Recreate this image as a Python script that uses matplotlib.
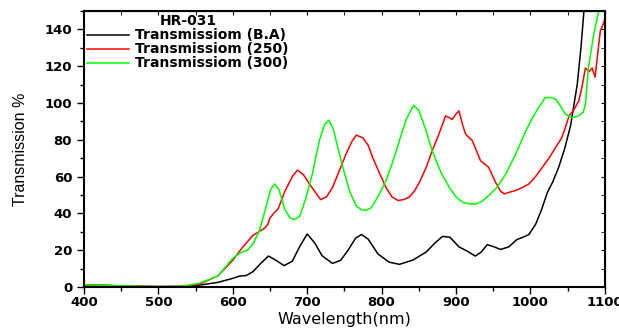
import matplotlib
matplotlib.use("Agg")
import matplotlib.pyplot as plt
from matplotlib.ticker import MultipleLocator

plt.rcParams["font.family"] = ["DejaVu Sans"]

# --- data ---
wl_ba = [400, 450, 500, 530, 555, 580, 600, 609, 618, 627, 638, 648, 658, 669, 680, 690,
         700, 710, 720, 734, 745, 755, 765, 773, 782, 795, 810, 824, 842, 860, 872, 882,
         892, 904, 915, 926, 934, 942, 950, 960, 971, 982, 990, 998, 1007, 1015, 1023,
         1030, 1038, 1046, 1054, 1063, 1068, 1072]
t_ba = [1.2, 0.6, 0.2, 0.3, 1, 2.5, 4.7, 5.9, 6.2, 8.3, 13, 16.8, 14.5, 11.6, 14, 22,
        28.8, 24, 17, 12.8, 14.5, 20, 26.5, 28.5, 26, 18, 13.5, 12.3, 14.6, 19, 24, 27.5,
        27, 21.8, 19.5, 16.8, 19, 23, 22, 20.4, 21.8, 25.8, 27, 28.5, 34, 42, 51.5,
        57, 65, 75, 87.6, 110, 130, 150]

wl_250 = [400, 450, 500, 530, 555, 580, 600, 612, 627, 643, 647, 650, 655, 661, 670, 680,
          687, 695, 703, 710, 718, 726, 734, 743, 752, 760, 766, 775, 782, 788, 797, 806,
          814, 822, 830, 837, 844, 851, 860, 868, 877, 886, 891, 895, 900, 904, 909, 913,
          922, 933, 944, 953, 960, 965, 972, 980, 989, 998, 1007, 1016, 1025, 1034, 1042,
          1047, 1052, 1058, 1065, 1070, 1074, 1079, 1083, 1087, 1090, 1094, 1099, 1100]
t_250 = [1.2, 0.6, 0.2, 0.3, 1.5, 6, 14.5, 21, 28, 32, 34, 37.5, 40, 42.5, 52, 60,
         63.5, 61, 56, 52, 47.5, 49, 54, 63, 72, 79, 82.5, 81, 77, 70.4, 62, 54,
         49, 47, 47.5, 48.8, 52, 57, 65, 74, 83, 93, 92, 91, 94, 95.7, 88, 83,
         79.5, 68.6, 65, 57, 52, 50.6, 51.5, 52.4, 54, 56, 60, 65, 70, 75.8, 81,
         86.6, 93, 96, 101, 110, 119, 117, 119, 114, 125, 139, 144, 146]

wl_300 = [400, 450, 500, 530, 555, 580, 600, 610, 620, 628, 636, 645, 651, 656, 662, 670,
          677, 683, 690, 698, 707, 716, 723, 729, 735, 741, 748, 757, 766, 773, 779, 786,
          795, 806, 815, 824, 833, 843, 850, 859, 868, 880, 891, 900, 909, 918, 926, 935,
          944, 955, 967, 980, 994, 1003, 1011, 1020, 1027, 1034, 1041, 1047, 1056, 1065,
          1071, 1074, 1078, 1085, 1092]
t_300 = [1.2, 0.6, 0.2, 0.3, 2, 6, 15.6, 18.5, 20, 24, 30.8, 44, 53, 56, 53, 42,
         37.5, 36.6, 38.5, 48, 61.5, 79, 88, 90.6, 86, 76, 65, 52, 44, 42, 41.6, 43,
         49, 57.8, 68, 79.5, 91, 98.7, 96, 86, 74, 62, 54.2, 49, 46, 45.2, 44.9, 46.5,
         49.7, 54, 61.4, 72, 84.9, 92, 97.5, 102.9, 103, 102, 98, 93.9, 92, 93,
         95, 99.3, 119, 137, 150]

labels = ["Transmissiom (B.A)", "Transmissiom (250)", "Transmissiom (300)"]
colors = ["#000000", "#ff0000", "#00ff00"]

fig = plt.figure(figsize=(6.19, 3.31), dpi=100)
ax = fig.add_axes([0.1357, 0.133, 0.8413, 0.834])

for x, y, lab, c in zip([wl_ba, wl_250, wl_300], [t_ba, t_250, t_300], labels, colors):
    ax.plot(x, y, color=c, linewidth=1.1, label=lab)

ax.set_xlim(400, 1100)
ax.set_ylim(0, 150)
ax.xaxis.set_major_locator(MultipleLocator(100))
ax.xaxis.set_minor_locator(MultipleLocator(50))
ax.yaxis.set_major_locator(MultipleLocator(20))
ax.yaxis.set_minor_locator(MultipleLocator(10))

for s in ax.spines.values():
    s.set_linewidth(1.5)
ax.tick_params(which="both", direction="out", top=False, right=False, width=1)
ax.tick_params(which="major", length=5, labelsize=9.5)
ax.tick_params(axis="x", which="major", pad=1.5)
ax.tick_params(which="minor", length=3)
for lbl in ax.get_xticklabels() + ax.get_yticklabels():
    lbl.set_fontweight("bold")

# inward ticks on the top and right edges
sec_x = ax.secondary_xaxis("top")
sec_x.xaxis.set_major_locator(MultipleLocator(100))
sec_x.xaxis.set_minor_locator(MultipleLocator(50))
sec_x.tick_params(which="both", direction="in", labeltop=False, length=3)
sec_y = ax.secondary_yaxis("right")
sec_y.yaxis.set_major_locator(MultipleLocator(20))
sec_y.yaxis.set_minor_locator(MultipleLocator(10))
sec_y.tick_params(which="both", direction="in", labelright=False, length=3)

ax.set_xlabel("Wavelength(nm)", fontsize=11.5, labelpad=2)
ax.set_ylabel("Transmission %", fontsize=11.5, labelpad=12,
              family=["Liberation Sans", "DejaVu Sans"])

leg = ax.legend(loc="upper left", bbox_to_anchor=(0.0, 1.0), frameon=False,
                title="HR-031", handlelength=3.0, handletextpad=0.45, labelspacing=0.0,
                borderaxespad=0.0, borderpad=0.25, prop={"weight": "bold", "size": 10},
                title_fontproperties={"weight": "bold", "size": 10})

fig.savefig("out.png", dpi=100)
